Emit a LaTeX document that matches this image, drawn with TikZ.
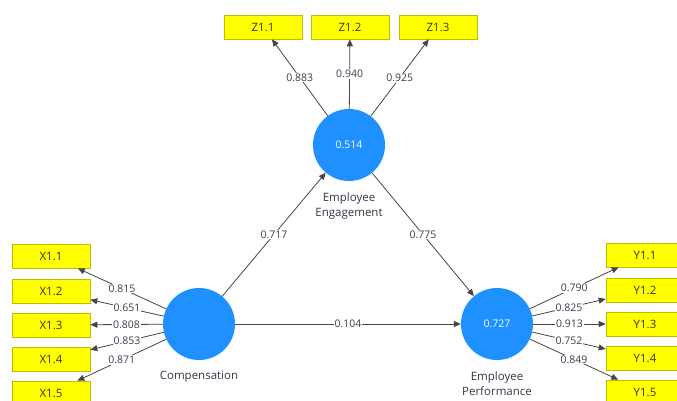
\documentclass[tikz,border=0pt]{standalone}
\usepackage{fontspec}
\setmainfont{Open Sans}
\usetikzlibrary{arrows.meta}
\definecolor{lvblue}{RGB}{30,144,255}
\definecolor{indyellow}{RGB}{255,255,0}
\definecolor{indborder}{RGB}{190,190,0}
\definecolor{linegray}{RGB}{70,70,70}
\definecolor{labgray}{RGB}{60,60,80}
\tikzset{
  latent/.style={circle,fill=lvblue,draw=none,minimum size=72pt,inner sep=0pt,text=white,font=\fontsize{10.5}{12}\selectfont},
  indbox/.style={rectangle,fill=indyellow,draw=indborder,line width=0.6pt,minimum width=78pt,minimum height=24pt,inner sep=0pt,text=black!80!olive,font=\fontsize{11.5}{13}\selectfont},
  conn/.style={draw=linegray,line width=0.8pt,-{Triangle[length=7pt,width=6pt]}},
  wlab/.style={fill=white,inner sep=1pt,text=labgray,font=\fontsize{10.5}{12}\selectfont},
  cname/.style={text=labgray!90!black,align=center,font=\fontsize{11.5}{15}\selectfont}
}
\begin{document}
\begin{tikzpicture}[x=1pt,y=-1pt]
\useasboundingbox (0,0) rectangle (677,401);
\fill[white] (0,0) rectangle (677,401);
% latent variables
\node[latent] (comp) at (199,324) {};
\node[latent] (eng) at (349,145) {0.514};
\node[latent] (perf) at (497,324) {0.727};
\node[cname,anchor=north] (compname) at (199,368) {Compensation};
\node[cname,anchor=north] (engname) at (349,189) {Employee\\Engagement};
\node[cname,anchor=north] (perfname) at (497,368) {Employee\\Performance};
% indicators
\node[indbox] (x1) at (51,256) {X1.1};
\node[indbox] (x2) at (51,291) {X1.2};
\node[indbox] (x3) at (51,325) {X1.3};
\node[indbox] (x4) at (51,359) {X1.4};
\node[indbox] (x5) at (51,393) {X1.5};
\node[indbox] (y1) at (645,255) {Y1.1};
\node[indbox] (y2) at (645,290) {Y1.2};
\node[indbox] (y3) at (645,324) {Y1.3};
\node[indbox] (y4) at (645,358) {Y1.4};
\node[indbox] (y5) at (645,392) {Y1.5};
\node[indbox] (z1) at (263,27) {Z1.1};
\node[indbox] (z2) at (350,27) {Z1.2};
\node[indbox] (z3) at (438,27) {Z1.3};
% outer loadings
\draw[conn] (comp) -- node[wlab]{0.815} (x1);
\draw[conn] (comp) -- node[wlab]{0.651} (x2);
\draw[conn] (comp) -- node[wlab]{0.808} (x3);
\draw[conn] (comp) -- node[wlab]{0.853} (x4);
\draw[conn] (comp) -- node[wlab]{0.871} (x5);
\draw[conn] (perf) -- node[wlab]{0.790} (y1);
\draw[conn] (perf) -- node[wlab]{0.825} (y2);
\draw[conn] (perf) -- node[wlab]{0.913} (y3);
\draw[conn] (perf) -- node[wlab]{0.752} (y4);
\draw[conn] (perf) -- node[wlab]{0.849} (y5);
\draw[conn] (eng) -- node[wlab]{0.883} (z1);
\draw[conn] (eng) -- node[wlab]{0.940} (z2);
\draw[conn] (eng) -- node[wlab]{0.925} (z3);
% structural paths
\draw[conn] (comp) -- node[wlab]{0.717} (eng);
\draw[conn] (eng) -- node[wlab]{0.775} (perf);
\draw[conn] (comp) -- node[wlab]{0.104} (perf);
\end{tikzpicture}
\end{document}
